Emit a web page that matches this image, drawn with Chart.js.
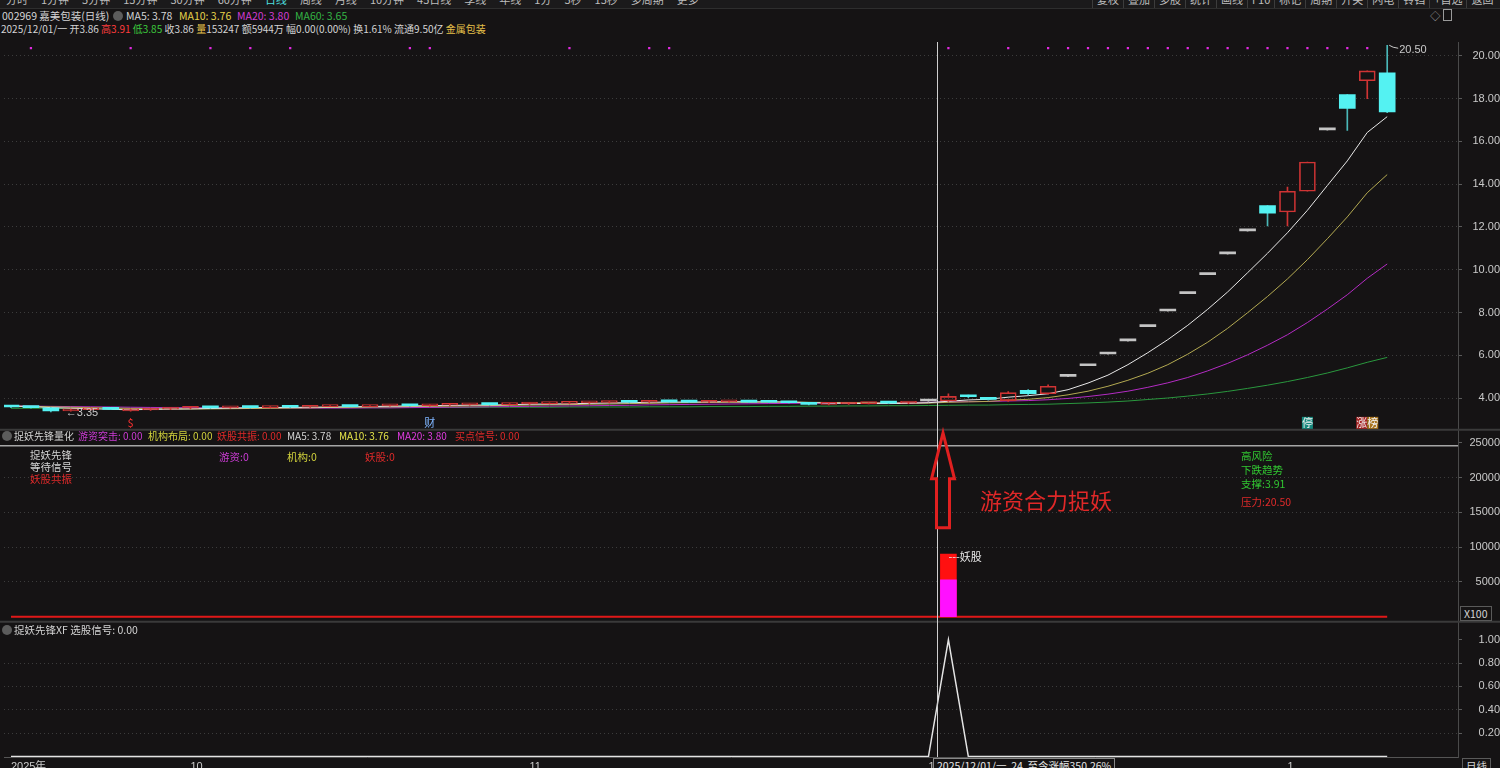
<!DOCTYPE html>
<html lang="zh-CN">
<head>
<meta charset="utf-8">
<title>002969 嘉美包装(日线)</title>
<script src="https://cdn.jsdelivr.net/npm/chart.js@4.4.1/dist/chart.umd.min.js"></script>
<style>
  html, body { margin: 0; padding: 0; width: 1500px; height: 768px; overflow: hidden; background: #151314; }
  body { position: relative; font-family: "Noto Sans CJK SC", "Noto Sans", sans-serif; font-size: 10.5px; color: #d4d4d4; }
  .t { position: absolute; white-space: nowrap; line-height: 13px; z-index: 2; }
  .s10 { font-size: 10px; }
  .ic { display: inline-block; width: 10px; height: 10px; border-radius: 50%; background: #5c5c5c; vertical-align: -1px; }
  #chartBox { position: absolute; left: 0; top: 38px; width: 1500px; height: 737px; z-index: 1; }
  #tb { position: absolute; left: 0; top: -9px; height: 17px; width: 1500px; background: #1b1a1b; border-bottom: 1px solid #2e2e2e; z-index: 2; font-size: 11px; line-height: 17px; color: #bdbdbd; white-space: nowrap; }
  #tb .l { position: absolute; left: 6px; top: 0; display: flex; gap: 13px; }
  #tb .r { position: absolute; left: 1092px; top: 0; display: flex; }
  #tb .r span { border-left: 1px solid #3c3c3c; padding: 0 4px; white-space: nowrap; }
  .box { border: 1px solid #5a5a5a; padding: 0 3px; background: #151314; }
</style>
</head>
<body>
<div id="tb">
  <div class="l"><span>分时</span><span>1分钟</span><span>5分钟</span><span>15分钟</span><span>30分钟</span><span>60分钟</span><span style="color:#4fe0e0">日线</span><span>周线</span><span>月线</span><span>10分钟</span><span>45日线</span><span>季线</span><span>年线</span><span>1分</span><span>5秒</span><span>15秒</span><span>多周期</span><span>更多</span></div>
  <div class="r"><span>复权</span><span>叠加</span><span>多股</span><span>统计</span><span>画线</span><span>F10</span><span>标记</span><span>周期</span><span>开关</span><span>闪电</span><span>铃铛</span><span>+自选</span><span>返回</span></div>
</div>

<div class="t" style="left:2px;top:9px">002969 嘉美包装(日线)</div>
<div class="t" style="left:113px;top:9px"><span class="ic"></span></div>
<div class="t" style="left:126px;top:9px">MA5: 3.78</div>
<div class="t" style="left:179px;top:9px;color:#e6d24a">MA10: 3.76</div>
<div class="t" style="left:237px;top:9px;color:#d23cd2">MA20: 3.80</div>
<div class="t" style="left:295px;top:9px;color:#34b444">MA60: 3.65</div>
<div class="t" style="left:1430px;top:9px;color:#9a9a9a">◇ <span style="display:inline-block;width:7px;height:10px;border:1px solid #9a9a9a;vertical-align:-1px"></span></div>

<div class="t s10" style="left:1px;top:22px">2025/12/01/一 开3.86 <span style="color:#ff3c3c">高3.91</span> <span style="color:#3cc83c">低3.85</span> 收3.86 <span style="color:#e6c04a">量</span>153247 额5944万 幅0.00(0.00%) 换1.61% 流通9.50亿 <span style="color:#e6c04a">金属包装</span></div>

<div id="chartBox"><canvas id="c" width="1500" height="737"></canvas></div>

<!-- 捉妖先锋量化 -->
<div class="t" style="left:2px;top:429px"><span class="ic"></span></div>
<div class="t s10" style="left:14px;top:429px">捉妖先锋量化</div>
<div class="t s10" style="left:78px;top:429px;color:#cc3cd6">游资突击: 0.00</div>
<div class="t s10" style="left:148px;top:429px;color:#d2d23c">机构布局: 0.00</div>
<div class="t s10" style="left:217px;top:429px;color:#e02a2a">妖股共振: 0.00</div>
<div class="t s10" style="left:287px;top:429px">MA5: 3.78</div>
<div class="t s10" style="left:339px;top:429px;color:#e6e64a">MA10: 3.76</div>
<div class="t s10" style="left:397px;top:429px;color:#e03ce0">MA20: 3.80</div>
<div class="t s10" style="left:455px;top:429px;color:#e02a2a">买点信号: 0.00</div>

<div class="t" style="left:30px;top:448px">捉妖先锋</div>
<div class="t" style="left:30px;top:460px">等待信号</div>
<div class="t" style="left:30px;top:472px;color:#e02a2a">妖股共振</div>
<div class="t" style="left:219px;top:450px;color:#cc3cd6">游资:0</div>
<div class="t" style="left:287px;top:450px;color:#d2d23c">机构:0</div>
<div class="t" style="left:365px;top:450px;color:#e02a2a">妖股:0</div>

<div class="t" style="left:1241px;top:449px;color:#32c832">高风险</div>
<div class="t" style="left:1241px;top:463px;color:#32c832">下跌趋势</div>
<div class="t" style="left:1241px;top:477px;color:#32c832">支撑:3.91</div>
<div class="t" style="left:1241px;top:495px;color:#e02a2a">压力:20.50</div>

<div class="t" style="left:980px;top:485px;font-size:22px;line-height:28px;color:#e02828">游资合力捉妖</div>
<div class="t box" style="left:1460px;top:606px">X100</div>

<!-- 捉妖先锋XF -->
<div class="t" style="left:2px;top:623px"><span class="ic"></span></div>
<div class="t" style="left:14px;top:623px">捉妖先锋XF 选股信号: 0.00</div>

<div class="t box" style="left:933px;top:758px;border-color:#888;color:#e6e6e6">2025/12/01/一&nbsp; 24&nbsp; 至今涨幅350.26%</div>
<div class="t box" style="left:1462px;top:758px">日线</div>

<script>
// x-axis month labels (candle index where each month starts)
const monthIdx = [0, 9, 26, 46, 64];
const monthLabels = ['2025年', '10', '11', '12', '1'];

// daily candles
const opens = [3.60,3.58,3.54,3.40,3.45,3.50,3.40,3.44,3.48,3.52,3.56,3.54,3.57,3.55,3.59,3.57,3.60,3.63,3.60,3.63,
  3.66,3.64,3.66,3.68,3.71,3.69,3.72,3.74,3.75,3.77,3.79,3.82,3.80,3.84,3.83,3.80,3.82,3.84,3.82,3.80,
  3.78,3.70,3.72,3.74,3.77,3.76,3.86,
  3.86,4.10,3.98,3.88,4.36,4.20,5.01,5.51,6.06,6.67,7.34,8.07,8.88,9.77,10.74,11.82,13.00,12.70,13.67,16.54,18.19,18.84,19.21];
const highs = [3.63,3.60,3.55,3.48,3.52,3.52,3.47,3.50,3.54,3.57,3.58,3.58,3.59,3.60,3.61,3.62,3.65,3.64,3.65,3.67,
  3.68,3.68,3.70,3.72,3.73,3.74,3.76,3.77,3.79,3.81,3.83,3.84,3.85,3.86,3.85,3.85,3.86,3.86,3.84,3.82,
  3.79,3.74,3.76,3.78,3.79,3.80,3.91,
  4.20,4.14,4.02,4.30,4.40,4.62,5.01,5.51,6.06,6.67,7.34,8.07,8.88,9.77,10.74,11.82,13.00,13.86,15.04,16.54,18.19,19.30,20.50];
const lows = [3.55,3.52,3.35,3.38,3.43,3.45,3.38,3.42,3.46,3.50,3.52,3.52,3.53,3.54,3.55,3.56,3.59,3.58,3.59,3.62,
  3.62,3.62,3.65,3.66,3.67,3.68,3.70,3.72,3.73,3.75,3.77,3.78,3.79,3.80,3.79,3.78,3.80,3.79,3.78,3.76,
  3.68,3.68,3.70,3.72,3.73,3.74,3.85,
  3.84,4.02,3.90,3.84,4.15,4.18,5.01,5.51,6.06,6.67,7.34,8.07,8.88,9.77,10.74,11.82,12.05,12.05,13.67,16.54,16.51,18.00,17.35];
const closes = [3.58,3.55,3.40,3.45,3.50,3.47,3.44,3.48,3.52,3.55,3.54,3.56,3.55,3.58,3.57,3.60,3.62,3.60,3.63,3.65,
  3.64,3.66,3.68,3.70,3.69,3.72,3.74,3.75,3.77,3.79,3.81,3.80,3.83,3.82,3.81,3.83,3.84,3.81,3.80,3.78,
  3.70,3.72,3.74,3.76,3.76,3.78,3.86,
  4.08,4.06,3.94,4.25,4.20,4.55,5.01,5.51,6.06,6.67,7.34,8.07,8.88,9.77,10.74,11.82,12.65,13.67,15.04,16.54,17.55,19.30,17.38];

// moving averages as shown
const ma5 = [3.62,3.60,3.55,3.52,3.50,3.47,3.45,3.47,3.48,3.49,3.51,3.53,3.54,3.56,3.56,3.57,3.58,3.59,3.60,3.62,
  3.63,3.64,3.65,3.67,3.67,3.69,3.71,3.72,3.73,3.75,3.77,3.78,3.80,3.81,3.81,3.82,3.83,3.82,3.82,3.81,
  3.79,3.76,3.75,3.74,3.74,3.75,3.78,
  3.85,3.91,3.94,4.04,4.11,4.20,4.39,4.70,5.07,5.56,6.12,6.73,7.40,8.15,8.96,9.86,10.77,11.73,12.78,13.94,15.09,16.42,17.16];
const ma10 = [3.62,3.61,3.59,3.57,3.55,3.53,3.51,3.50,3.49,3.49,3.49,3.50,3.51,3.52,3.53,3.54,3.56,3.57,3.58,3.59,
  3.60,3.61,3.62,3.63,3.64,3.66,3.67,3.68,3.69,3.71,3.72,3.74,3.75,3.77,3.78,3.79,3.80,3.80,3.81,3.81,
  3.80,3.79,3.79,3.78,3.77,3.77,3.76,
  3.80,3.82,3.84,3.90,3.94,4.02,4.15,4.32,4.55,4.83,5.16,5.56,6.05,6.61,7.26,7.99,8.75,9.57,10.47,11.45,12.47,13.60,14.45];
const ma20 = [3.63,3.62,3.61,3.60,3.59,3.58,3.57,3.56,3.55,3.55,3.54,3.54,3.53,3.53,3.53,3.53,3.53,3.53,3.54,3.54,
  3.55,3.56,3.57,3.58,3.59,3.60,3.61,3.62,3.63,3.64,3.65,3.66,3.68,3.69,3.70,3.71,3.72,3.73,3.74,3.75,
  3.76,3.76,3.77,3.78,3.78,3.79,3.80,
  3.82,3.83,3.84,3.86,3.88,3.92,3.98,4.07,4.18,4.32,4.50,4.71,4.96,5.27,5.62,6.02,6.47,6.96,7.53,8.16,8.83,9.60,10.27];
const ma60 = [3.52,3.52,3.52,3.52,3.52,3.53,3.53,3.53,3.53,3.53,3.54,3.54,3.54,3.54,3.54,3.55,3.55,3.55,3.55,3.55,
  3.56,3.56,3.56,3.56,3.57,3.57,3.57,3.57,3.58,3.58,3.58,3.58,3.59,3.59,3.59,3.60,3.60,3.60,3.61,3.61,
  3.62,3.62,3.63,3.63,3.64,3.64,3.65,
  3.66,3.67,3.67,3.69,3.70,3.71,3.74,3.77,3.81,3.86,3.93,4.00,4.09,4.19,4.31,4.45,4.60,4.77,4.96,5.17,5.41,5.67,5.90];

// magenta signal dots along the top of the price pane
const dotIdx = [1, 6, 10, 12, 14, 20, 21, 28, 32, 33, 47, 50, 52, 53, 54, 55, 56, 57, 58, 59, 60, 61, 62, 63, 64, 65, 66, 67, 68];
const dotLevel = 20.36;

// 捉妖先锋量化 bars
const yzIdx = [47];
const yzHot = [5300];     // 游资 (magenta)
const yzDemon = [9000];   // 妖股 (red)
// 捉妖先锋XF 选股信号
const xfIdx = [47];
const xfVal = [1];

// event markers under the candles
const eventIdx = [6, 21, 65, 68];
const eventText = ['$', '财', '停', '涨榜'];

const priceTicks = [4, 6, 8, 10, 12, 14, 16, 18, 20];
const indTicks = [5000, 10000, 15000, 20000, 25000];
const xfTicks = [0.2, 0.4, 0.6, 0.8, 1.0];
const crossIdx = 46;

const AXIS_W = 42;
const TICK_LEN = 4;
const TICK_FONT = { family: 'Liberation Sans', size: 11 };
const UP = '#d03434', DOWN = '#54f2f2', FLAT = '#c4c4c4';

const mctx = document.createElement('canvas').getContext('2d');
function padFor(labels) {
  mctx.font = TICK_FONT.size + 'px "' + TICK_FONT.family + '"';
  const w = Math.max(...labels.map(s => mctx.measureText(s).width));
  return 1497 - (1500 - AXIS_W) - TICK_LEN - w;
}

const idx = closes.map((_, i) => i);
const dir = idx.map(i => closes[i] > opens[i] ? 1 : closes[i] < opens[i] ? -1 : 0);
const col = idx.map(i => dir[i] > 0 ? UP : dir[i] < 0 ? DOWN : FLAT);

function yAxis(weight, min, max, tickVals, fmt, noGridAt) {
  return {
    type: 'linear', position: 'right', stack: 'panes', stackWeight: weight, min: min, max: max,
    afterBuildTicks: s => { s.ticks = tickVals.map(v => ({ value: v })); },
    afterFit: s => { s.width = AXIS_W; s.paddingTop = 0; s.paddingBottom = 0; },
    ticks: { color: '#cacaca', font: TICK_FONT, crossAlign: 'far', padding: padFor(tickVals.map(fmt)), callback: v => fmt(v) },
    grid: {
      color: c => (c.tick && c.tick.value === noGridAt) ? 'rgba(0,0,0,0)' : '#3c3c3c',
      tickColor: '#5a5a5a', tickLength: TICK_LEN, lineWidth: 1
    },
    border: { display: true, color: '#4a4a4a', dash: [1, 3] }
  };
}

const overlay = {
  id: 'overlay',
  afterDatasetsDraw(chart) {
    const { ctx, chartArea: ca, scales } = chart;
    const x = scales.x, yP = scales.yP, yI = scales.yI;
    const px = v => x.getPixelForValue(v);
    const step = px(1) - px(0);
    ctx.save();

    // pane separators
    ctx.strokeStyle = '#3a3a3a'; ctx.lineWidth = 2;
    [yP.bottom, yI.bottom].forEach(y => { ctx.beginPath(); ctx.moveTo(0, y); ctx.lineTo(chart.width, y); ctx.stroke(); });
    ctx.strokeStyle = '#a6a6a6'; ctx.lineWidth = 1.5;
    const yTop = yI.getPixelForValue(indTicks[indTicks.length - 1]) + 3;
    ctx.beginPath(); ctx.moveTo(0, yTop); ctx.lineTo(ca.right, yTop); ctx.stroke();

    // highest high / lowest low labels
    ctx.font = '11px "Liberation Sans"'; ctx.fillStyle = '#cacaca'; ctx.strokeStyle = '#cacaca'; ctx.lineWidth = 1;
    ctx.textBaseline = 'middle'; ctx.textAlign = 'left';
    const hi = highs.indexOf(Math.max(...highs));
    const hx = px(hi) + 2, hy = yP.getPixelForValue(highs[hi]);
    ctx.beginPath(); ctx.moveTo(hx, hy); ctx.lineTo(hx + 4, hy + 2); ctx.lineTo(hx + 9, hy + 3); ctx.stroke();
    ctx.fillText(highs[hi].toFixed(2), hx + 10, hy + 5);
    const lo = lows.indexOf(Math.min(...lows));
    ctx.fillText('←' + lows[lo].toFixed(2), px(lo) + step * 0.75, yP.getPixelForValue(lows[lo]) + 1);

    // event markers
    ctx.font = '11px "Noto Sans CJK SC"'; ctx.textAlign = 'center';
    const ey = yP.bottom - 7;
    eventIdx.forEach((i, k) => {
      const t = eventText[k], cx = px(i);
      if (t === '$') { ctx.fillStyle = '#ff3030'; ctx.fillText(t, cx, ey); return; }
      if (t === '财') { ctx.fillStyle = '#7fb6ff'; ctx.fillText(t, cx, ey); return; }
      const bgs = t === '停' ? ['#178a7e'] : ['#a82424', '#a8741e'];
      const w = 11, x0 = cx - (t.length * w) / 2;
      [...t].forEach((ch, j) => {
        ctx.fillStyle = bgs[j % bgs.length]; ctx.fillRect(x0 + j * w, ey - 6, w, 12);
        ctx.fillStyle = '#f0f0f0'; ctx.fillText(ch, x0 + j * w + w / 2, ey);
      });
    });

    // 妖股 tag on the bar
    ctx.textAlign = 'left'; ctx.fillStyle = '#e8e8e8';
    ctx.fillText('---妖股', px(yzIdx[0]), yI.getPixelForValue(yzDemon[0]) + 3);

    // crosshair
    const cxh = Math.round(px(crossIdx) + step * 0.45) + 0.5;
    ctx.strokeStyle = '#cfcfcf'; ctx.lineWidth = 1;
    ctx.beginPath(); ctx.moveTo(cxh, ca.top); ctx.lineTo(cxh, ca.bottom); ctx.stroke();

    // up arrow annotation
    const ax = cxh + 5.5, tip = yI.top + 3, base = tip + 46, bot = tip + 95;
    ctx.strokeStyle = '#e02020'; ctx.lineWidth = 3; ctx.lineJoin = 'miter';
    ctx.beginPath();
    ctx.moveTo(ax, tip); ctx.lineTo(ax + 11.5, base); ctx.lineTo(ax + 6.5, base); ctx.lineTo(ax + 6.5, bot);
    ctx.lineTo(ax - 6.5, bot); ctx.lineTo(ax - 6.5, base); ctx.lineTo(ax - 11.5, base); ctx.closePath();
    ctx.stroke();
    ctx.restore();
  }
};

const candleBase = { type: 'bar', grouped: false, xAxisID: 'x', yAxisID: 'yP', borderSkipped: false };
const lineBase = { type: 'line', xAxisID: 'x', pointRadius: 0, borderWidth: 1, tension: 0 };

new Chart(document.getElementById('c'), {
  type: 'bar',
  data: {
    datasets: [
      { ...lineBase, yAxisID: 'yP', showLine: false, pointRadius: 1.6, pointStyle: 'rect',
        pointBackgroundColor: '#e02ae0', pointBorderWidth: 0,
        data: dotIdx.map(i => ({ x: i, y: dotLevel })) },
      { ...candleBase, barThickness: 16, minBarLength: 2,
        data: idx.map(i => ({ x: i, y: [opens[i], closes[i]] })),
        backgroundColor: idx.map(i => dir[i] > 0 ? 'rgba(0,0,0,0)' : col[i]),
        borderColor: col, borderWidth: idx.map(i => dir[i] > 0 ? 1 : 0) },
      { ...candleBase, barThickness: 1,
        data: idx.map(i => ({ x: i, y: [Math.max(opens[i], closes[i]), highs[i]] })),
        backgroundColor: idx.map(i => dir[i] < 0 ? '#4ab8b8' : col[i]) },
      { ...candleBase, barThickness: 1,
        data: idx.map(i => ({ x: i, y: [lows[i], Math.min(opens[i], closes[i])] })),
        backgroundColor: idx.map(i => dir[i] < 0 ? '#4ab8b8' : col[i]) },
      { ...lineBase, yAxisID: 'yP', borderColor: '#e8e8e8', data: idx.map(i => ({ x: i, y: ma5[i] })) },
      { ...lineBase, yAxisID: 'yP', borderColor: '#b4aa52', data: idx.map(i => ({ x: i, y: ma10[i] })) },
      { ...lineBase, yAxisID: 'yP', borderColor: '#b42cc4', data: idx.map(i => ({ x: i, y: ma20[i] })) },
      { ...lineBase, yAxisID: 'yP', borderColor: '#2a983e', data: idx.map(i => ({ x: i, y: ma60[i] })) },
      { type: 'bar', grouped: false, xAxisID: 'x', yAxisID: 'yI', barThickness: 16, backgroundColor: '#ff10ff',
        data: yzIdx.map((i, k) => ({ x: i, y: yzHot[k] })) },
      { type: 'bar', grouped: false, xAxisID: 'x', yAxisID: 'yI', barThickness: 16, backgroundColor: '#ff1010',
        data: yzIdx.map((i, k) => ({ x: i, y: yzDemon[k] })) },
      { ...lineBase, yAxisID: 'yI', borderColor: '#e01818', borderWidth: 2, data: idx.map(i => ({ x: i, y: 0 })) },
      { ...lineBase, yAxisID: 'yX', borderColor: '#e4e4e4', borderWidth: 1.5,
        data: idx.map(i => ({ x: i, y: xfIdx.includes(i) ? xfVal[xfIdx.indexOf(i)] : 0 })) }
    ]
  },
  options: {
    responsive: false, animation: false, events: [], devicePixelRatio: 1,
    layout: { padding: 0 },
    plugins: { legend: { display: false }, tooltip: { enabled: false } },
    scales: {
      x: {
        type: 'linear', min: -0.35, max: 72.55, offset: false,
        afterBuildTicks: s => { s.ticks = monthIdx.map(v => ({ value: v })); },
        afterFit: s => { s.height = 18; s.paddingLeft = 0; s.paddingRight = 0; },
        ticks: { callback: v => monthLabels[monthIdx.indexOf(v)], align: 'start', maxRotation: 0, minRotation: 0,
                 autoSkip: false, color: '#cacaca', font: TICK_FONT, padding: 3 },
        grid: { display: false, drawTicks: false, offset: false },
        border: { display: true, color: '#555555' }
      },
      yP: yAxis(390, 2.512, 20.651, priceTicks, v => v.toFixed(2), null),
      yI: yAxis(193, -714, 26857, indTicks, v => String(v), 25000),
      yX: yAxis(136, -0.004, 1.153, xfTicks, v => v.toFixed(2), 1)
    }
  },
  plugins: [overlay]
});
</script>
</body>
</html>
